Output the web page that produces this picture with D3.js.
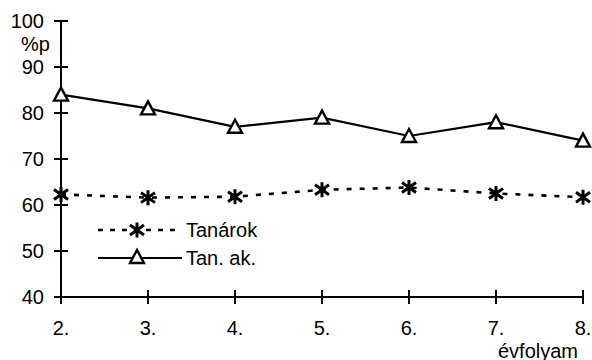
<!DOCTYPE html>
<html>
<head>
<meta charset="utf-8">
<script src="https://cdn.jsdelivr.net/npm/d3@7"></script>
<style>
  html, body { margin: 0; padding: 0; background: #fff; }
  svg { display: block; font-family: "Liberation Sans", Arial, sans-serif; }
</style>
</head>
<body>
<svg id="chart" width="592" height="360"></svg>
<script>
// Grade levels on the x axis
const grades = ["2.", "3.", "4.", "5.", "6.", "7.", "8."];
// Series values in percentage points
const tanarok = [62.3, 61.6, 61.8, 63.3, 63.8, 62.5, 61.7];
const tanAk = [84, 81, 77, 79, 75, 78, 74];
const yTicks = [40, 50, 60, 70, 80, 90, 100];
const seriesNames = ["Tanárok", "Tan. ak."];

const svg = d3.select("#chart");
const x = d3.scalePoint().domain(grades).range([61, 583]);
const y = d3.scaleLinear().domain([40, 100]).range([297, 21]);

const fontSize = 20;

// Y axis
const gy = svg.append("g").attr("transform", "translate(61,0)");
gy.append("line").attr("y1", y(100)).attr("y2", y(40)).attr("stroke", "#000").attr("stroke-width", 2);
gy.selectAll("line.tk").data(yTicks).enter().append("line").attr("class", "tk")
  .attr("x1", -7).attr("x2", 7).attr("y1", d => y(d)).attr("y2", d => y(d))
  .attr("stroke", "#000").attr("stroke-width", 2);
gy.selectAll("text.tl").data(yTicks).enter().append("text").attr("class", "tl")
  .attr("x", -17).attr("y", d => y(d)).attr("dy", "0.35em")
  .attr("text-anchor", "end").attr("font-size", fontSize).text(d => d3.format("d")(d));

// X axis
const gx = svg.append("g").attr("transform", "translate(0,297)");
gx.append("line").attr("x1", x(grades[0])).attr("x2", x(grades[grades.length - 1]))
  .attr("stroke", "#000").attr("stroke-width", 2);
gx.selectAll("line.tk").data(grades).enter().append("line").attr("class", "tk")
  .attr("x1", d => x(d)).attr("x2", d => x(d)).attr("y1", -7).attr("y2", 7)
  .attr("stroke", "#000").attr("stroke-width", 2);
gx.selectAll("text.tl").data(grades).enter().append("text").attr("class", "tl")
  .attr("x", d => x(d)).attr("y", 31).attr("dy", "0.35em")
  .attr("text-anchor", "middle").attr("font-size", fontSize).text(d => d);

// Axis titles
svg.append("text").attr("x", 21).attr("y", 44).attr("dy", "0.35em")
  .attr("font-size", fontSize).text("%p");
svg.append("text").attr("x", 578).attr("y", 358)
  .attr("text-anchor", "end").attr("font-size", fontSize).text("évfolyam");

// Marker drawers
function star(g, cx, cy) {
  const p = d3.path();
  p.moveTo(cx, cy - 7.5); p.lineTo(cx, cy + 7.5);
  p.moveTo(cx - 7, cy - 5); p.lineTo(cx + 7, cy + 5);
  p.moveTo(cx - 7, cy + 5); p.lineTo(cx + 7, cy - 5);
  g.append("path").attr("d", p.toString()).attr("stroke", "#000")
    .attr("stroke-width", 3).attr("fill", "none");
}
function triangle(g, cx, cy) {
  g.append("path")
    .attr("d", `M${cx},${cy - 7}L${cx + 7},${cy + 6}L${cx - 7},${cy + 6}Z`)
    .attr("fill", "#fff").attr("stroke", "#000").attr("stroke-width", 2.4)
    .attr("stroke-linejoin", "miter");
}

const line = d3.line().x((d, i) => x(grades[i])).y(d => y(d));

// Tanárok: dashed line with asterisks
svg.append("path").datum(tanarok).attr("d", line).attr("fill", "none")
  .attr("stroke", "#000").attr("stroke-width", 2.6).attr("stroke-dasharray", "5,8");
const gs = svg.append("g");
tanarok.forEach((v, i) => star(gs, x(grades[i]), y(v)));

// Tan. ak.: solid line with triangles
svg.append("path").datum(tanAk).attr("d", line).attr("fill", "none")
  .attr("stroke", "#000").attr("stroke-width", 2.2);
const gt = svg.append("g");
tanAk.forEach((v, i) => triangle(gt, x(grades[i]), y(v)));

// Legend
const lg = svg.append("g");
lg.append("line").attr("x1", 98).attr("x2", 182).attr("y1", 230).attr("y2", 230)
  .attr("stroke", "#000").attr("stroke-width", 2.6).attr("stroke-dasharray", "5,7");
star(lg, 137, 230);
lg.append("text").attr("x", 186).attr("y", 230).attr("dy", "0.35em")
  .attr("font-size", fontSize).text(seriesNames[0]);
lg.append("line").attr("x1", 98).attr("x2", 182).attr("y1", 258).attr("y2", 258)
  .attr("stroke", "#000").attr("stroke-width", 2.2);
triangle(lg, 137, 257);
lg.append("text").attr("x", 186).attr("y", 258).attr("dy", "0.35em")
  .attr("font-size", fontSize).text(seriesNames[1]);
</script>
</body>
</html>
